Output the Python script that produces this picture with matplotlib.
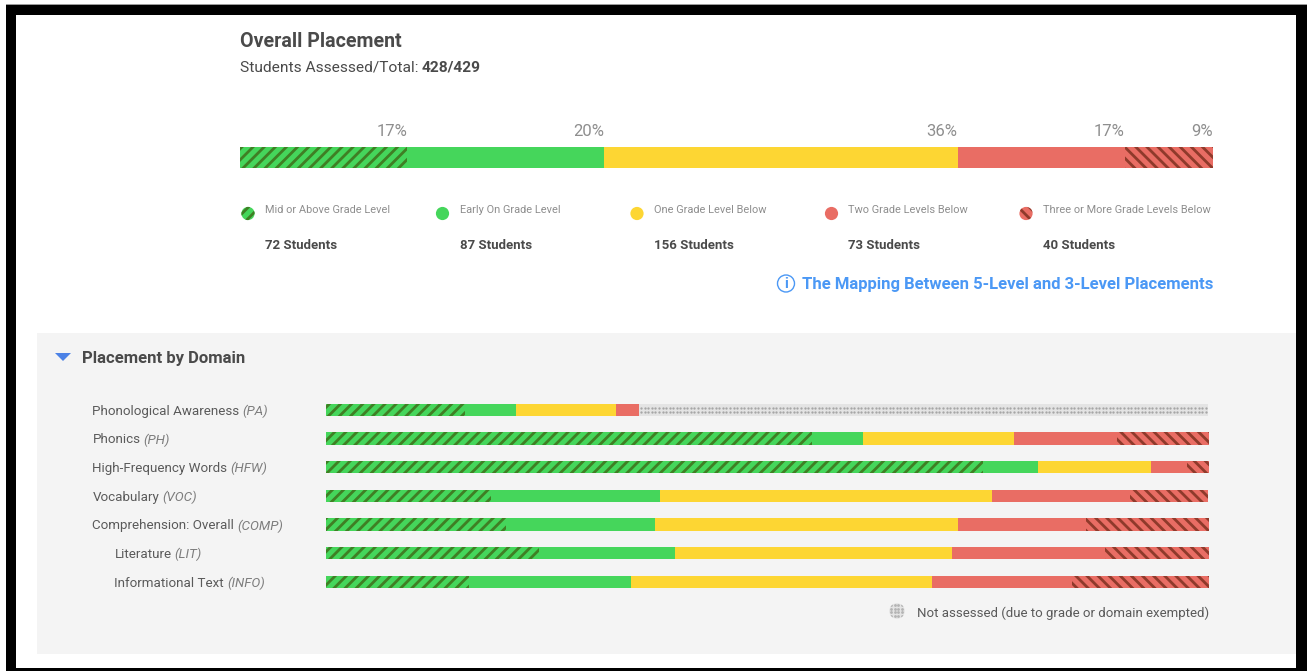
import matplotlib
matplotlib.use("Agg")
import matplotlib.pyplot as plt
import numpy as np
from matplotlib.patches import Circle, Rectangle, Polygon

W, H = 1307, 671
plt.rcParams["font.family"] = ["Roboto", "DejaVu Sans"]
plt.rcParams["hatch.linewidth"] = 2.0

# Data
level_names = ["Mid or Above Grade Level", "Early On Grade Level", "One Grade Level Below",
               "Two Grade Levels Below", "Three or More Grade Levels Below"]
overall_pct = [17, 20, 36, 17, 9]
student_counts = [72, 87, 156, 73, 40]
domains = ["Phonological Awareness", "Phonics", "High-Frequency Words", "Vocabulary",
           "Comprehension: Overall", "Literature", "Informational Text"]
domain_codes = ["(PA)", "(PH)", "(HFW)", "(VOC)", "(COMP)", "(LIT)", "(INFO)"]
domain_indent = [0, 0, 0, 0, 0, 1, 1]
mid_above = [15.7, 55.0, 74.4, 18.7, 20.4, 24.1, 16.2]
early_on = [5.8, 5.8, 6.2, 19.1, 16.9, 15.4, 18.3]
one_below = [11.3, 17.1, 12.8, 37.6, 34.3, 31.4, 34.1]
two_below = [2.7, 11.7, 4.1, 15.6, 14.5, 17.3, 15.9]
three_below = [0, 10.4, 2.5, 8.9, 13.9, 11.8, 15.5]
not_assessed = [64.4, 0, 0, 0, 0, 0, 0]

# Fill colour, hatch colour and hatch pattern for each placement level
GREEN, DK_GREEN = "#45d65b", "#3f7f24"
YELLOW = "#fdd633"
RED, DK_RED = "#e96d64", "#8f3a2b"
GREY, DK_GREY = "#e4e4e4", "#a6a6a6"
styles = [(GREEN, DK_GREEN, "///"), (GREEN, GREEN, None), (YELLOW, YELLOW, None),
          (RED, RED, None), (RED, DK_RED, "\\\\\\")]
LEVEL_X = [248, 442.5, 637, 831.5, 1026]

fig = plt.figure(figsize=(W / 100, H / 100), dpi=100, facecolor="white")


def px_axes(x0, y0, x1, y1, **kw):
    return fig.add_axes([x0 / W, 1 - y1 / H, (x1 - x0) / W, (y1 - y0) / H], **kw)


# Page layer addressed in pixels
page = fig.add_axes([0, 0, 1, 1], zorder=0)
page.set_xlim(0, W)
page.set_ylim(H, 0)
page.axis("off")

# Screenshot frame
for x, y, w, h in [(6, 4.7, 1301, 10), (6, 4.7, 10, 667), (1296, 4.7, 11, 667), (6, 668.2, 1301, 3)]:
    page.add_patch(Rectangle((x, y), w, h, fc="black", ec="none", zorder=5))
page.add_patch(Rectangle((6, 3.9), 1301, 0.8, fc="#9a9a9a", ec="none", zorder=5))
page.add_patch(Rectangle((36.5, 333), 1259.5, 320.5, fc="#f4f4f4", ec="none", zorder=1))

DARK = "#4a4a4a"
LABEL = "#5a5a5a"
MUTED = "#8e8e8e"
BLUE = "#4b98f5"


def t(x, y, s, size, color, weight="normal", ha="left", style="normal"):
    return page.text(x, y, s, fontsize=size, color=color, weight=weight, ha=ha, va="center",
                     style=style, zorder=3)


def after(prev, s, size, color, gap=3.0, **kw):
    box = prev.get_window_extent(fig.canvas.get_renderer())
    return t(box.x1 + gap, prev.get_position()[1], s, size, color, **kw)


# Overall header
t(240, 41.5, "Overall Placement", 14.15, DARK, weight="bold")
head = t(240, 67.5, "Students Assessed/Total:", 11.15, DARK)
after(head, "428/429", 11.15, DARK, gap=3.5, weight="bold")

# Overall stacked bar, scaled to the sum of its rounded percentages
ax = px_axes(240.1, 147, 1213.3, 167.5, zorder=2)
ax.set_xlim(0, sum(overall_pct))
ax.set_ylim(0, 1)
ax.axis("off")
left = 0
for pct, (fc, hc, hatch) in zip(overall_pct, styles):
    ax.barh(0.5, pct, 1, left=left, color=fc, edgecolor=hc, hatch=hatch, linewidth=0)
    left += pct
    ax.annotate(f"{pct}%", xy=(left, 1), xycoords="data", xytext=(0, 16), textcoords="offset pixels",
                ha="right", va="center", fontsize=12.0, color=MUTED, annotation_clip=False)

# Overall legend
for i, x in enumerate(LEVEL_X):
    fc, hc, hatch = styles[i]
    page.add_patch(Circle((x, 213.5), 6.6, fc=fc, ec=hc if hatch else fc, hatch=hatch, lw=0, zorder=3))
    t(x + 17, 210, level_names[i], 7.9, MUTED)
    t(x + 17, 245.5, f"{student_counts[i]} Students", 9.5, DARK, weight="bold")

# Mapping link with info icon
t(1213, 284.5, "The Mapping Between 5-Level and 3-Level Placements", 11.98, BLUE, weight="bold", ha="right")
page.add_patch(Circle((786, 283.5), 8.5, fc="none", ec=BLUE, lw=1.0, zorder=3))
t(786, 283.8, "i", 10.5, BLUE, weight="bold", ha="center")

# Domain section header
page.add_patch(Polygon([(55, 353), (71, 353), (63, 361)], fc="#4c82e6", ec="none", zorder=3))
t(82.5, 358.5, "Placement by Domain", 12.0, DARK, weight="bold")

# Domain stacked bars
row_h = 28.65
top = 410 - row_h / 2
n = len(domains)
dx = px_axes(326, top, 1209, top + row_h * n, zorder=2)
dx.set_xlim(0, 100)
dx.set_ylim(n - 0.5, -0.5)
dx.axis("off")
rows = list(range(n))
lefts = [0.0] * n
series = [mid_above, early_on, one_below, two_below, three_below]
for vals, (fc, hc, hatch) in zip(series, styles):
    dx.barh(rows, vals, 0.43, left=lefts, color=fc, edgecolor=hc, hatch=hatch, linewidth=0)
    lefts = [a + b for a, b in zip(lefts, vals)]
dx.barh(rows, not_assessed, 0.43, left=lefts, color=GREY, linewidth=0)

# Dotted texture over the not-assessed stretch, two rows of dots
for row, (start, span) in enumerate(zip(lefts, not_assessed)):
    if span > 0:
        dot_x = np.arange(start + 0.2, start + span, 3.55 * 100 / 883)
        for off in (-0.075, 0.075):
            dx.scatter(dot_x, np.full(dot_x.shape, row + off), s=2.8, color=DK_GREY, linewidths=0, zorder=3)

# Domain row labels
for i, (name, code, ind) in enumerate(zip(domains, domain_codes, domain_indent)):
    y = 411.3 + i * 28.67
    lab = t(114.5 if ind else 92.5, y, name, 9.6, LABEL)
    after(lab, code, 9.6, "#7d7d7d", style="italic")

# Not-assessed key: a grey disc carrying the same dots
key = Circle((897, 611), 7.8, fc=GREY, ec="none", zorder=3)
page.add_patch(key)
grid = np.arange(-6, 7, 3.6)
gx, gy = np.meshgrid(897 + grid, 611 + grid)
dots = page.scatter(gx.ravel(), gy.ravel(), s=4, color="#b4b4b4", linewidths=0, zorder=4)
dots.set_clip_path(key)
t(1209, 613, "Not assessed (due to grade or domain exempted)", 9.5, LABEL, ha="right")

fig.savefig("out.png", dpi=100, facecolor="white")
